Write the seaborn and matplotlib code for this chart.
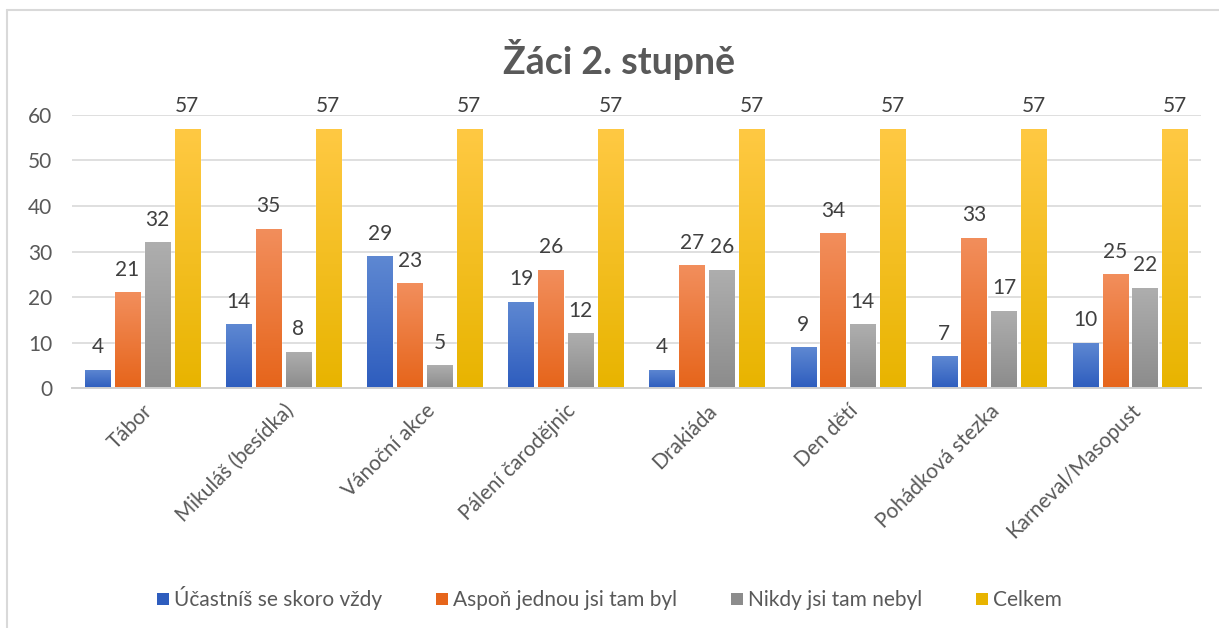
import numpy as np
import pandas as pd
import matplotlib
matplotlib.use("Agg")
import matplotlib.pyplot as plt
from matplotlib.colors import LinearSegmentedColormap
from matplotlib.lines import Line2D
from matplotlib.patches import Patch
import seaborn as sns

# data
events = ["Tábor", "Mikuláš (besídka)", "Vánoční akce", "Pálení čarodějnic",
          "Drakiáda", "Den dětí", "Pohádková stezka", "Karneval/Masopust"]
series = ["Účastníš se skoro vždy", "Aspoň jednou jsi tam byl",
          "Nikdy jsi tam nebyl", "Celkem"]
skoro_vzdy = [4, 14, 29, 19, 4, 9, 7, 10]
aspon_jednou = [21, 35, 23, 26, 27, 34, 33, 25]
nikdy = [32, 8, 5, 12, 26, 14, 17, 22]
celkem = [57, 57, 57, 57, 57, 57, 57, 57]

# gradient colours (top, bottom) like the Excel fill
grad = {
    series[0]: ("#5E88D2", "#2E5DBE"),
    series[1]: ("#F28E5C", "#E6651B"),
    series[2]: ("#AEAEAE", "#8C8C8C"),
    series[3]: ("#FFC943", "#E8B400"),
}
flat = {k: v[1] for k, v in grad.items()}

df = pd.DataFrame({"akce": events * 4,
                   "serie": np.repeat(series, len(events)),
                   "pocet": skoro_vzdy + aspon_jednou + nikdy + celkem})

sns.set_style("white")
plt.rcParams["font.family"] = ["Lato", "DejaVu Sans"]
fs = 15

fig = plt.figure(figsize=(12.19, 6.28), dpi=100)
ax = fig.add_axes([0.059, 0.382, 0.926, 0.435])

sns.barplot(data=df, x="akce", y="pocet", hue="serie", palette=flat,
            width=0.845, gap=0.15, ax=ax, legend=False, saturation=1)

# gradient fill + value labels
for container, name in zip(ax.containers, series):
    top, bottom = grad[name]
    cmap = LinearSegmentedColormap.from_list(name, [bottom, top])
    for bar in container:
        x0, y0 = bar.get_x(), bar.get_y()
        w, h = bar.get_width(), bar.get_height()
        img = ax.imshow(np.linspace(0, 1, 100).reshape(-1, 1), cmap=cmap,
                        extent=[x0, x0 + w, y0, y0 + h], origin="lower",
                        aspect="auto", zorder=bar.get_zorder())
        img.set_clip_path(bar)
    ax.bar_label(container, padding=9, fontsize=fs, color="#404040")

ax.set_xlim(-0.5, len(events) - 0.5)
ax.set_ylim(0, 60)
ax.set_yticks(range(0, 61, 10))
ax.yaxis.grid(True, color="#D9D9D9", linewidth=1.2)
ax.set_axisbelow(True)
for s in ["top", "right", "left"]:
    ax.spines[s].set_visible(False)
ax.spines["bottom"].set_color("#D0D0D0")
ax.spines["bottom"].set_linewidth(1.4)
ax.tick_params(axis="both", length=0, labelsize=fs, labelcolor="#595959")
ax.tick_params(axis="y", pad=14)
ax.set_xlabel("")
ax.set_ylabel("")
ax.set_xticks(range(len(events)))
ax.set_xticklabels(events, rotation=45, ha="right", rotation_mode="anchor")
ax.tick_params(axis="x", pad=9)

fig.text(0.508, 0.905, "Žáci 2. stupně", ha="center", va="center",
         fontsize=27, fontweight="bold", color="#595959")

handles = [Patch(facecolor=grad[s][1], edgecolor="none") for s in series]
fig.legend(handles, series, loc="center", bbox_to_anchor=(0.5, 0.047),
           ncol=4, frameon=False, fontsize=fs, labelcolor="#595959",
           handlelength=0.55, handleheight=0.55, handletextpad=0.25,
           columnspacing=2.6)

# chart area border (left and top visible)
fig.add_artist(Line2D([7 / 1219, 7 / 1219], [0, 1 - 10 / 628],
                      transform=fig.transFigure, color="#D9D9D9", lw=1.5))
fig.add_artist(Line2D([7 / 1219, 1], [1 - 10 / 628, 1 - 10 / 628],
                      transform=fig.transFigure, color="#D9D9D9", lw=1.5))

fig.savefig("out.png", dpi=100)
